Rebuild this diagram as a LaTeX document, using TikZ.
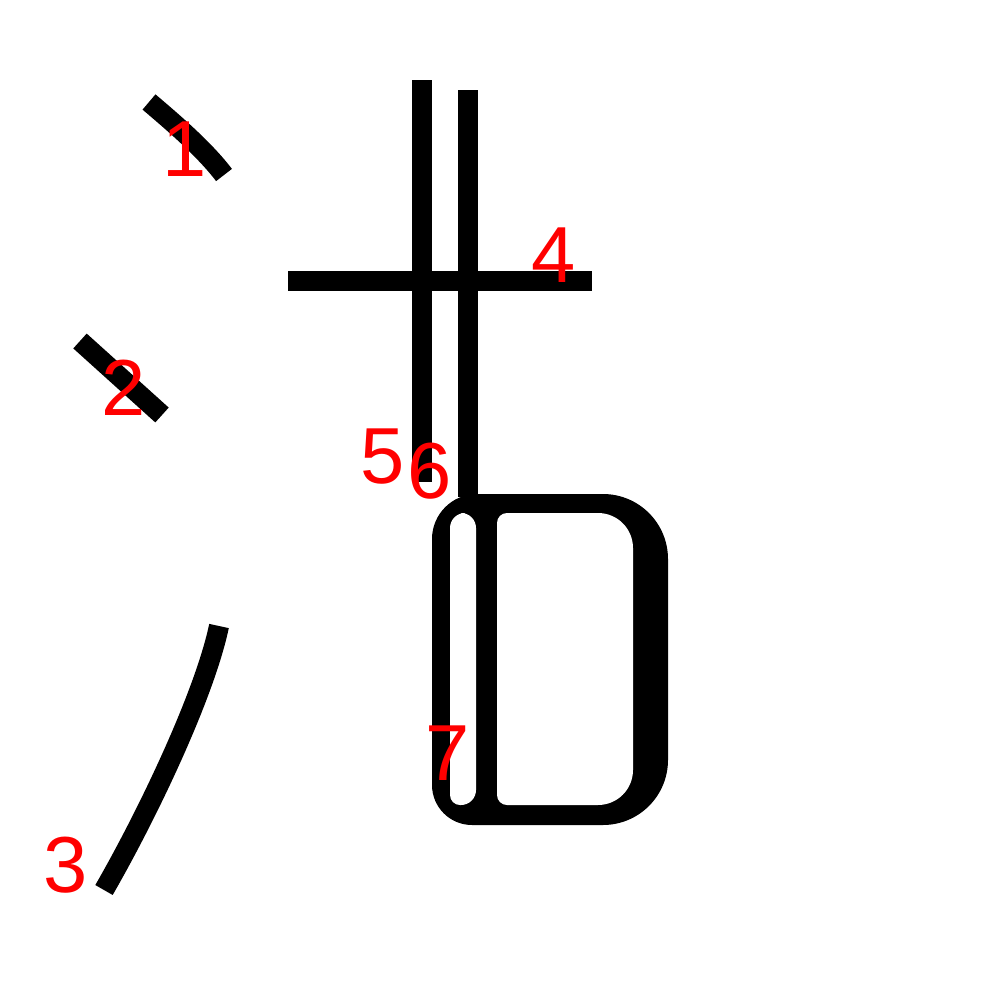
\documentclass[tikz,border=0pt]{standalone}
\usepackage{fontspec}
\setmainfont{Liberation Sans}
\usetikzlibrary{positioning}

\begin{document}
\begin{tikzpicture}[x=0.01cm, y=-0.01cm,
  strk/.style={line width=2mm},
  lbl/.style={text=red, font=\fontsize{22.6}{27}\selectfont, anchor=base, inner sep=0pt}]
  \useasboundingbox (0,0) rectangle (1000,1000);

  % strokes
  \draw[strk] (149,102) .. controls (175,124) and (205,150) .. (224,175);
  \draw[strk] (80,341) -- (162,415);
  \draw[strk] (219,626) .. controls (205,693) and (150,810) .. (104,890);
  \draw[strk] (288,281) -- (592,281);
  \draw[strk] (422,80) -- (422,482);
  \draw[strk] (468,90) -- (468,497);
  \fill (432,660) [rounded corners=4.5mm] -- (432,494) [rounded corners=6.5mm] -- (668,494) -- (668,825) [rounded corners=4mm] -- (432,825) -- cycle;
  \fill[white] (450,660) [rounded corners=1.5mm] -- (450,513) -- (476,513) -- (476,805) [rounded corners=1mm] -- (450,805) -- cycle;
  \fill[white] (497,660) [rounded corners=1mm] -- (497,513) [rounded corners=3.5mm] -- (633,513) -- (633,805) [rounded corners=1mm] -- (497,805) -- cycle;

  % numbers
  \node[lbl] (n1) at (185,176) {1};
  \node[lbl] (n2) at (124,415) {2};
  \node[lbl] (n3) at (66,892) {3};
  \node[lbl] (n4) at (554,282) {4};
  \node[lbl] (n5) at (383,483) {5};
  \node[lbl] (n6) at (430,498) {6};
  \node[lbl] (n7) at (448,780) {7};
\end{tikzpicture}
\end{document}
